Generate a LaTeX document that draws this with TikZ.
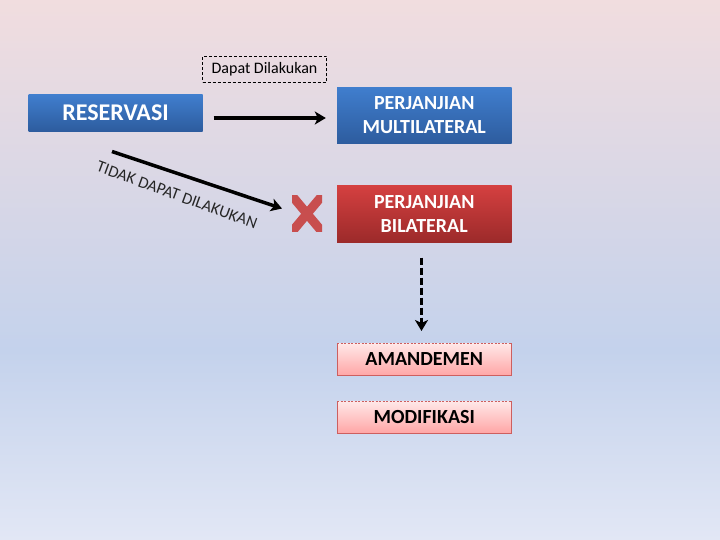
\documentclass[tikz,border=0pt]{standalone}
\usepackage{fontspec}
\setmainfont{Carlito}
\usetikzlibrary{arrows.meta}
\definecolor{bgtop}{RGB}{241,221,223}
\definecolor{bgmid}{RGB}{196,210,236}
\definecolor{bgbot}{RGB}{226,231,245}
\definecolor{bluetop}{RGB}{64,126,206}
\definecolor{bluebot}{RGB}{45,92,158}
\definecolor{redtop}{RGB}{212,64,64}
\definecolor{redbot}{RGB}{156,42,42}
\definecolor{pinktop}{RGB}{255,232,232}
\definecolor{pinkbot}{RGB}{255,166,166}
\definecolor{pinkline}{RGB}{205,95,95}
\definecolor{xred}{RGB}{200,78,78}
\tikzset{
  bluebox/.style={rectangle, top color=bluetop, bottom color=bluebot, draw=none, text=white, font=\bfseries, align=center, inner sep=0pt},
  redbox/.style={rectangle, top color=redtop, bottom color=redbot, draw=none, text=white, font=\bfseries, align=center, inner sep=0pt},
  pinkbox/.style={rectangle, top color=pinktop, bottom color=pinkbot, draw=none, text=black, font=\bfseries, align=center, inner sep=0pt, minimum width=174pt, minimum height=32pt},
  pinkedge/.style={draw=pinkline, line width=0.7pt},
  notebox/.style={rectangle, draw=black, densely dashed, line width=0.5pt, inner sep=0pt, minimum width=124pt, minimum height=26pt},
  bigarrow/.style={line width=3.5pt, -{Stealth[length=11pt,width=13pt,inset=3pt]}},
}
\begin{document}
\begin{tikzpicture}[x=1pt,y=-1pt]
\useasboundingbox (0,0) rectangle (720,540);
\shade[top color=bgtop, bottom color=bgmid] (0,0) rectangle (720,350.5);
\shade[top color=bgmid, bottom color=bgbot] (0,350) rectangle (720,540);

\node[notebox, font=\fontsize{16}{18}\selectfont] (note) at (264.5,69.5) {Dapat Dilakukan};
\node[bluebox, minimum width=174pt, minimum height=36.5pt, font=\bfseries\fontsize{24}{26}\selectfont] (res) at (115.5,113) {RESERVASI};
\node[bluebox, minimum width=174.5pt, minimum height=56.5pt, font=\bfseries\fontsize{20}{23.5}\selectfont] (multi) at (424.25,115.3) {PERJANJIAN\\MULTILATERAL};
\node[redbox, minimum width=174.5pt, minimum height=56pt, font=\bfseries\fontsize{20}{23.5}\selectfont] (bi) at (424.25,214) {PERJANJIAN\\BILATERAL};
\node[pinkbox, font=\bfseries\fontsize{20}{22}\selectfont] (amd) at (424.25,359.3) {AMANDEMEN};
\node[pinkbox, font=\bfseries\fontsize{20}{22}\selectfont] (mod) at (424.25,417) {MODIFIKASI};
\foreach \b in {amd,mod}{
  \draw[pinkedge] (\b.north west) -- (\b.south west) -- (\b.south east) -- (\b.north east);
  \draw[pinkedge, line width=0.6pt, dash pattern=on 2pt off 1.5pt] (\b.north west) -- (\b.north east);
}

% red cross mark
\begin{scope}
  \clip (292,196) rectangle (322,231.5);
  \draw[xred, line width=9pt] (288,191) -- (326,236.5);
  \draw[xred, line width=9pt] (326,191) -- (288,236.5);
\end{scope}

\coordinate (a1) at (213.5,118);
\coordinate (d1) at (112,151.5);
\coordinate (d2) at (282,208.5);
\coordinate (v1) at (421.5,257.5);
\coordinate (v2) at (421.5,331);
\draw[bigarrow, shorten >=11pt] (a1) -- (a1 -| multi.west);
\draw[bigarrow] (d1) -- (d2);
\draw[bigarrow, dash pattern=on 7pt off 3pt] (v1) -- (v2);

\node[rotate=-20, font=\fontsize{16.5}{18}\selectfont, text=black!85] (lbl) at (177,195) {TIDAK DAPAT DILAKUKAN};
\end{tikzpicture}
\end{document}
